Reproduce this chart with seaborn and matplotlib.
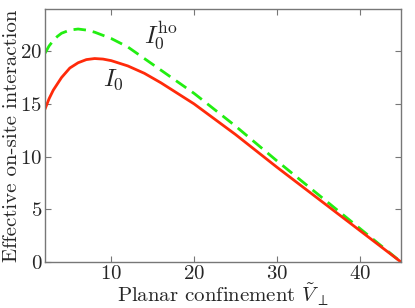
import numpy as np
import pandas as pd
import matplotlib
matplotlib.use("Agg")
import matplotlib.pyplot as plt
import seaborn as sns

# valores
v_i0 = [2, 2.5, 3, 3.5, 4, 5, 6, 7, 8, 9, 10, 12, 14, 16, 18, 20, 25, 30, 35, 40, 45]
i0 = [14.5, 15.5, 16.3, 16.9, 17.5, 18.4, 18.9, 19.2, 19.3, 19.25, 19.1, 18.6,
      17.9, 17.0, 16.0, 15.0, 12.1, 9.0, 6.0, 3.0, 0.0]

v_ho = [2, 2.5, 3, 3.5, 4, 5, 6, 7, 8, 10, 12, 14, 16, 18, 20, 25, 30, 35, 40, 45]
i0_ho = [19.8, 20.5, 21.0, 21.4, 21.7, 22.0, 22.1, 22.0, 21.8, 21.2, 20.4, 19.3,
         18.2, 17.1, 16.0, 12.9, 9.6, 6.4, 3.2, 0.0]

xticks = [10, 20, 30, 40]
yticks = [0, 5, 10, 15, 20]

sns.set_style("ticks")
plt.rcParams["font.family"] = ["cmr10", "DejaVu Serif"]
plt.rcParams["mathtext.fontset"] = "cm"
plt.rcParams["axes.formatter.use_mathtext"] = True

df_i0 = pd.DataFrame({"V": v_i0, "I": i0})
df_ho = pd.DataFrame({"V": v_ho, "I": i0_ho})

fig = plt.figure(figsize=(4.15, 3.08), dpi=100)
ax = fig.add_axes([0.1084, 0.1494, 0.8579, 0.8214])

sns.lineplot(data=df_ho, x="V", y="I", ax=ax, color="#22ee11", lw=2,
             linestyle=(0, (4.5, 2.5)))
sns.lineplot(data=df_i0, x="V", y="I", ax=ax, color="#ff2a0a", lw=2)

ax.text(16.0, 21.5, r"$I_0^{\mathrm{ho}}$", fontsize=18, ha="center", va="center")
ax.text(10.3, 17.3, r"$I_0$", fontsize=18, ha="center", va="center")

ax.set_xlim(2, 45)
ax.set_ylim(0, 24)
ax.set_xticks(xticks)
ax.set_yticks(yticks)
ax.set_xlabel(r"Planar confinement $\tilde{V}_{\perp}$", fontsize=15, labelpad=-0.5)
ax.set_ylabel("Effective on-site interaction", fontsize=15)
ax.yaxis.set_label_coords(-0.068, 0.5)

for s in ax.spines.values():
    s.set_visible(True)
    s.set_color("#777777")
    s.set_linewidth(1)
ax.tick_params(direction="in", top=True, right=True, length=4, width=0.8,
               color="#777777", labelsize=15, pad=2)

fig.savefig("out.png", dpi=100)
